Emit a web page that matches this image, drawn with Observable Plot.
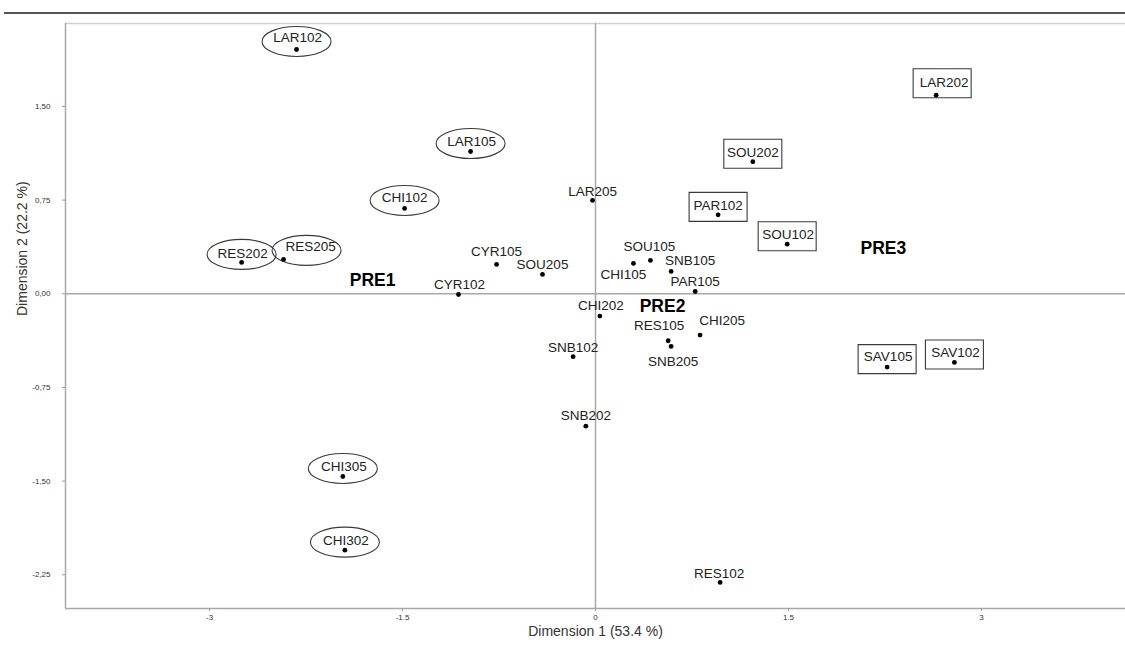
<!DOCTYPE html>
<html>
<head>
<meta charset="utf-8">
<script src="https://cdn.jsdelivr.net/npm/d3@7"></script>
<script src="https://cdn.jsdelivr.net/npm/@observablehq/plot@0.6"></script>
<style>
  body { margin: 0; background: #fff; font-family: "Liberation Sans", Arial, sans-serif; }
  #wrap { position: relative; width: 1125px; height: 646px; overflow: hidden; }
  #topline { position: absolute; left: 4px; right: 0; top: 12px; border-top: 2px solid #555; }
</style>
</head>
<body>
<div id="wrap"><div id="topline"></div></div>
<script>
// ---- data ----
const names  = ["LAR102","LAR105","CHI102","RES202","RES205","CHI305","CHI302",
                "LAR202","SOU202","PAR102","SOU102","SAV105","SAV102",
                "LAR205","CYR105","SOU205","CYR102","SOU105","CHI105","SNB105","PAR105",
                "CHI202","RES105","CHI205","SNB205","SNB102","SNB202","RES102"];
const dim1   = [-2.324,-0.971,-1.484,-2.751,-2.425,-1.964,-1.948,
                 2.648, 1.223, 0.953, 1.490, 2.267, 2.790,
                -0.023,-0.769,-0.412,-1.065, 0.427, 0.295, 0.588, 0.775,
                 0.034, 0.565, 0.813, 0.588,-0.174,-0.075, 0.969];
const dim2   = [ 1.956, 1.139, 0.683, 0.251, 0.275,-1.463,-2.053,
                 1.590, 1.057, 0.632, 0.397,-0.587,-0.550,
                 0.747, 0.235, 0.155,-0.006, 0.267, 0.243, 0.179, 0.018,
                -0.179,-0.376,-0.331,-0.422,-0.504,-1.060,-2.311];
const groups = ["PRE1","PRE1","PRE1","PRE1","PRE1","PRE1","PRE1",
                "PRE3","PRE3","PRE3","PRE3","PRE3","PRE3",
                "PRE2","PRE2","PRE2","PRE2","PRE2","PRE2","PRE2","PRE2",
                "PRE2","PRE2","PRE2","PRE2","PRE2","PRE2","PRE2"];
const groupNames = ["PRE1","PRE2","PRE3"];
const groupX = [-1.733, 0.521, 2.238];
const groupY = [ 0.106,-0.102, 0.364];
const xTicks = [-3, -1.5, 0, 1.5, 3];
const yTicks = [-2.25, -1.5, -0.75, 0, 0.75, 1.5];
const xTitle = "Dimension 1 (53.4 %)";
const yTitle = "Dimension 2 (22.2 %)";

// ---- layout (label placement, pixels) ----
const labelNudge = {
  LAR102:[1,-12], LAR105:[1,-10], CHI102:[0,-11], RES202:[1,-9], RES205:[27,-13],
  CHI305:[1,-10], CHI302:[1,-10], LAR202:[8,-13], SOU202:[0,-9], PAR102:[0,-9],
  SOU102:[1,-10], SAV105:[1,-10], SAV102:[1,-10], LAR205:[0,-9], CYR105:[0,-13],
  SOU205:[0,-10], CYR102:[1,-10], SOU105:[-1,-14], CHI105:[-10,11], SNB105:[19,-11],
  PAR105:[0,-10], CHI202:[1,-10], RES105:[-9,-15], CHI205:[22,-14], SNB205:[2,15],
  SNB102:[0,-9], SNB202:[0,-10], RES102:[-1,-9]
};
const shapeNudge = { RES205:[23,-9], LAR202:[6,-12] };
const defaultShapeNudge = [0,-8];

const points = names.map((n,i) => ({name:n, x:dim1[i], y:dim2[i], group:groups[i]}));
const centroids = groupNames.map((g,i) => ({name:g, x:groupX[i], y:groupY[i]}));

const k = 0.5523;
const ellipseSymbol = {draw(ctx){
  const rx = 34.5, ry = 15;
  ctx.moveTo(rx,0);
  ctx.bezierCurveTo(rx, ry*k, rx*k, ry, 0, ry);
  ctx.bezierCurveTo(-rx*k, ry, -rx, ry*k, -rx, 0);
  ctx.bezierCurveTo(-rx, -ry*k, -rx*k, -ry, 0, -ry);
  ctx.bezierCurveTo(rx*k, -ry, rx, -ry*k, rx, 0);
  ctx.closePath();
}};
const boxSymbol = {draw(ctx){
  const w = 29, h = 14.5;
  ctx.moveTo(-w,-h); ctx.lineTo(w,-h); ctx.lineTo(w,h); ctx.lineTo(-w,h); ctx.closePath();
}};

const shapeMarks = points.filter(d => d.group !== "PRE2").map(d => {
  const [dx, dy] = shapeNudge[d.name] || defaultShapeNudge;
  return Plot.dot([d], {x:"x", y:"y", dx, dy, r:10,
    symbol: d.group === "PRE1" ? ellipseSymbol : boxSymbol,
    fill:"none", stroke:"#3a3a3a", strokeWidth:1.1});
});
const labelMarks = points.map(d => {
  const [dx, dy] = labelNudge[d.name] || [0,-10];
  return Plot.text([d], {x:"x", y:"y", text:"name", dx, dy, fontSize:13.5, fill:"#222"});
});

const xDomain = [-4.12, 4.12];
const yDomain = [-2.52, 2.164];

const chart = Plot.plot({
  width: 1125, height: 646,
  marginLeft: 65, marginRight: 0, marginTop: 23, marginBottom: 38,
  style: {fontFamily: '"Liberation Sans", Arial, sans-serif', background: "transparent"},
  x: {domain: xDomain},
  y: {domain: yDomain},
  marks: [
    Plot.ruleY([yDomain[1]], {stroke:"#d0d0d0", strokeWidth:1.5}),
    Plot.ruleX([xDomain[0]], {stroke:"#a8a8a8", strokeWidth:1.5}),
    Plot.ruleY([yDomain[0]], {stroke:"#a8a8a8", strokeWidth:1.5}),
    Plot.ruleY([0], {stroke:"#a8a8a8", strokeWidth:1.5}),
    Plot.ruleX([0], {stroke:"#a8a8a8", strokeWidth:1.5}),
    Plot.axisX({ticks: xTicks, tickFormat: d => String(d), fontSize: 8, tickSize: 3, tickPadding: 3, stroke:"#999", fill:"#333", label: null}),
    Plot.axisY({ticks: yTicks, tickFormat: d => d.toFixed(2).replace(".", ","), fontSize: 8, tickSize: 3, tickPadding: 12, stroke:"#999", fill:"#333", label: null}),
    Plot.text([xTitle], {frameAnchor:"bottom", dy: 27, fontSize: 14, fill:"#333"}),
    Plot.text([yTitle], {frameAnchor:"left", dx: -43, rotate: -90, fontSize: 14, fill:"#333"}),
    ...shapeMarks,
    Plot.dot(points, {x:"x", y:"y", r:2.4, fill:"#000"}),
    ...labelMarks,
    Plot.text(centroids, {x:"x", y:"y", text:"name", fontSize:17.5, fontWeight:"bold", fill:"#000"})
  ]
});
document.getElementById("wrap").appendChild(chart);
chart.style.position = "absolute";
chart.style.left = "0";
chart.style.top = "0";
</script>
</body>
</html>
